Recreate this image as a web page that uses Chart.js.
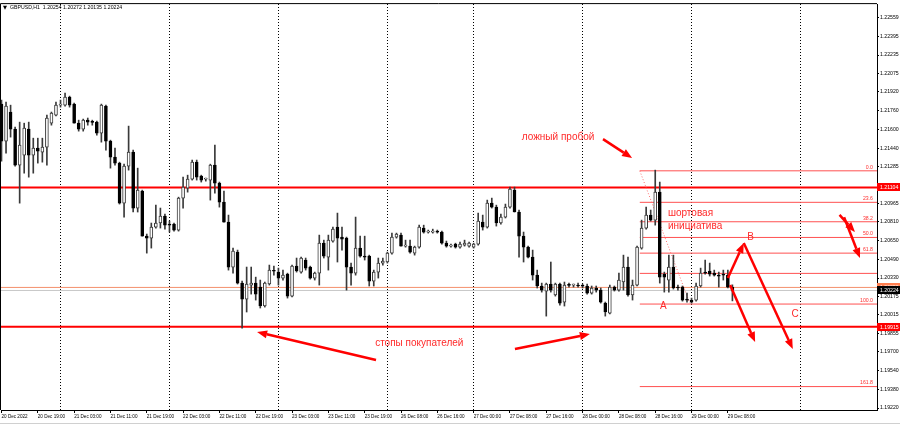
<!DOCTYPE html>
<html>
<head>
<meta charset="UTF-8">
<title>GBPUSD,H1</title>
<script src="https://cdn.jsdelivr.net/npm/chart.js@4"></script>
<style>
  html, body { margin: 0; padding: 0; background: #fff; }
</style>
</head>
<body>
<canvas id="gbpusdChart" width="900" height="425"></canvas>
<script>
const symbolTitle = 'GBPUSD,H1';

// H1 bars, bar 0 = 20 Dec 11:00
const opens = [
  1.21816, 1.21500, 1.21748, 1.21602, 1.21295, 1.21380, 1.21602, 1.21380, 1.21440, 1.21406,
  1.21448, 1.21653, 1.21722, 1.21807, 1.21807, 1.21876, 1.21816, 1.21653, 1.21602, 1.21679,
  1.21662, 1.21662, 1.21568, 1.21799, 1.21500, 1.21363, 1.21312, 1.20970, 1.21286, 1.21406,
  1.20928, 1.21073, 1.20688, 1.20671, 1.20765, 1.20800, 1.20860, 1.20791, 1.20791, 1.20740,
  1.21013, 1.21098, 1.21175, 1.21320, 1.21201, 1.21175, 1.21167, 1.21295, 1.21141, 1.20979,
  1.20808, 1.20424, 1.20552, 1.20287, 1.20150, 1.20270, 1.20287, 1.20253, 1.20091, 1.20279,
  1.20390, 1.20381, 1.20330, 1.20364, 1.20176, 1.20432, 1.20381, 1.20484, 1.20424, 1.20330,
  1.20372, 1.20628, 1.20509, 1.20646, 1.20765, 1.20680, 1.20671, 1.20424, 1.20372, 1.20586,
  1.20518, 1.20518, 1.20304, 1.20381, 1.20458, 1.20467, 1.20543, 1.20680, 1.20697, 1.20603,
  1.20603, 1.20543, 1.20594, 1.20757, 1.20723, 1.20723, 1.20731, 1.20723, 1.20628, 1.20603,
  1.20620, 1.20594, 1.20611, 1.20603, 1.20594, 1.20620, 1.20808, 1.20765, 1.20970, 1.20936,
  1.20800, 1.20851, 1.20936, 1.21081, 1.20894, 1.20688, 1.20594, 1.20509, 1.20355, 1.20262,
  1.20219, 1.20279, 1.20185, 1.20279, 1.20125, 1.20270, 1.20270, 1.20270, 1.20262, 1.20262,
  1.20202, 1.20245, 1.20227, 1.20116, 1.20031, 1.20253, 1.20227, 1.20296, 1.20424, 1.20185,
  1.20270, 1.20586, 1.20757, 1.20868, 1.20825, 1.21064, 1.20364, 1.20313, 1.20424, 1.20253,
  1.20253, 1.20150, 1.20142, 1.20142, 1.20262, 1.20381, 1.20390, 1.20372, 1.20355, 1.20364,
  1.20355, 1.20254
];
const highs = [
  1.21850, 1.21833, 1.21807, 1.21619, 1.21662, 1.21653, 1.21662, 1.21525, 1.21525, 1.21525,
  1.21722, 1.21748, 1.21833, 1.21850, 1.21910, 1.21884, 1.21824, 1.21679, 1.21688, 1.21697,
  1.21679, 1.21671, 1.21816, 1.21807, 1.21508, 1.21440, 1.21320, 1.21303, 1.21628, 1.21423,
  1.21269, 1.21081, 1.20706, 1.20800, 1.20953, 1.20928, 1.20877, 1.20817, 1.20800, 1.21021,
  1.21192, 1.21209, 1.21338, 1.21338, 1.21209, 1.21184, 1.21303, 1.21466, 1.21150, 1.21073,
  1.20868, 1.20586, 1.20569, 1.20304, 1.20424, 1.20424, 1.20338, 1.20313, 1.20296, 1.20441,
  1.20432, 1.20415, 1.20398, 1.20372, 1.20441, 1.20501, 1.20509, 1.20501, 1.20432, 1.20381,
  1.20697, 1.20654, 1.20697, 1.20765, 1.20885, 1.20765, 1.20680, 1.20458, 1.20851, 1.20688,
  1.20688, 1.20526, 1.20398, 1.20501, 1.20501, 1.20552, 1.20714, 1.20714, 1.20714, 1.20654,
  1.20654, 1.20603, 1.20782, 1.20782, 1.20740, 1.20748, 1.20740, 1.20731, 1.20646, 1.20620,
  1.20628, 1.20637, 1.20654, 1.20637, 1.20628, 1.20885, 1.20868, 1.20996, 1.21013, 1.20953,
  1.20877, 1.20962, 1.21107, 1.21107, 1.20911, 1.20723, 1.20603, 1.20569, 1.20398, 1.20287,
  1.20287, 1.20467, 1.20287, 1.20287, 1.20296, 1.20287, 1.20279, 1.20287, 1.20279, 1.20279,
  1.20262, 1.20262, 1.20245, 1.20125, 1.20270, 1.20262, 1.20372, 1.20526, 1.20509, 1.20313,
  1.20603, 1.20825, 1.20936, 1.20911, 1.21252, 1.21150, 1.20381, 1.20526, 1.20526, 1.20270,
  1.20262, 1.20202, 1.20159, 1.20287, 1.20415, 1.20484, 1.20458, 1.20398, 1.20381, 1.20398,
  1.20398, 1.20272
];
const lows = [
  1.21329, 1.21397, 1.21534, 1.21286, 1.20970, 1.21226, 1.21192, 1.21226, 1.21312, 1.21320,
  1.21295, 1.21636, 1.21714, 1.21790, 1.21799, 1.21790, 1.21653, 1.21585, 1.21585, 1.21636,
  1.21636, 1.21551, 1.21491, 1.21423, 1.21269, 1.21295, 1.20962, 1.20851, 1.21252, 1.20894,
  1.20894, 1.20688, 1.20543, 1.20586, 1.20757, 1.20757, 1.20748, 1.20723, 1.20731, 1.20731,
  1.20928, 1.21064, 1.21167, 1.21167, 1.21150, 1.21158, 1.20996, 1.21056, 1.20936, 1.20808,
  1.20398, 1.20372, 1.20279, 1.19903, 1.20040, 1.20193, 1.20142, 1.20074, 1.20082, 1.20270,
  1.20355, 1.20270, 1.20313, 1.20159, 1.20168, 1.20381, 1.20372, 1.20398, 1.20321, 1.20313,
  1.20270, 1.20501, 1.20398, 1.20637, 1.20467, 1.20569, 1.20227, 1.20270, 1.20355, 1.20509,
  1.20484, 1.20262, 1.20262, 1.20330, 1.20441, 1.20458, 1.20535, 1.20671, 1.20603, 1.20594,
  1.20543, 1.20526, 1.20586, 1.20714, 1.20714, 1.20714, 1.20714, 1.20620, 1.20594, 1.20594,
  1.20586, 1.20586, 1.20603, 1.20594, 1.20586, 1.20611, 1.20740, 1.20757, 1.20928, 1.20774,
  1.20791, 1.20843, 1.20928, 1.20894, 1.20509, 1.20467, 1.20501, 1.20313, 1.20245, 1.20210,
  1.20005, 1.20210, 1.20176, 1.20099, 1.20091, 1.20253, 1.20253, 1.20253, 1.20245, 1.20193,
  1.20193, 1.20210, 1.20116, 1.20005, 1.20023, 1.20219, 1.20219, 1.20227, 1.20176, 1.20142,
  1.20262, 1.20577, 1.20748, 1.20817, 1.20782, 1.20287, 1.20210, 1.20210, 1.20236, 1.20227,
  1.20133, 1.20125, 1.20116, 1.20133, 1.20253, 1.20364, 1.20347, 1.20347, 1.20253, 1.20313,
  1.20245, 1.20135
];
const closes = [
  1.21500, 1.21799, 1.21602, 1.21295, 1.21466, 1.21611, 1.21380, 1.21440, 1.21414, 1.21448,
  1.21697, 1.21739, 1.21807, 1.21816, 1.21876, 1.21807, 1.21653, 1.21602, 1.21679, 1.21662,
  1.21660, 1.21568, 1.21807, 1.21500, 1.21363, 1.21312, 1.20970, 1.21286, 1.21406, 1.20928,
  1.21081, 1.20688, 1.20671, 1.20765, 1.20800, 1.20860, 1.20782, 1.20782, 1.20740, 1.21013,
  1.21107, 1.21175, 1.21320, 1.21192, 1.21167, 1.21177, 1.21295, 1.21141, 1.20979, 1.20808,
  1.20424, 1.20560, 1.20287, 1.20150, 1.20279, 1.20287, 1.20193, 1.20091, 1.20287, 1.20398,
  1.20388, 1.20330, 1.20355, 1.20176, 1.20432, 1.20390, 1.20501, 1.20415, 1.20330, 1.20372,
  1.20628, 1.20518, 1.20654, 1.20748, 1.20671, 1.20663, 1.20424, 1.20372, 1.20586, 1.20518,
  1.20509, 1.20304, 1.20381, 1.20458, 1.20475, 1.20543, 1.20680, 1.20706, 1.20603, 1.20611,
  1.20552, 1.20594, 1.20765, 1.20723, 1.20731, 1.20731, 1.20723, 1.20628, 1.20603, 1.20611,
  1.20594, 1.20620, 1.20628, 1.20628, 1.20620, 1.20817, 1.20765, 1.20970, 1.20936, 1.20800,
  1.20851, 1.20936, 1.21090, 1.20894, 1.20688, 1.20594, 1.20509, 1.20355, 1.20262, 1.20227,
  1.20279, 1.20227, 1.20279, 1.20116, 1.20270, 1.20268, 1.20272, 1.20262, 1.20260, 1.20202,
  1.20245, 1.20227, 1.20125, 1.20040, 1.20253, 1.20227, 1.20313, 1.20424, 1.20185, 1.20270,
  1.20594, 1.20757, 1.20868, 1.20825, 1.21064, 1.20338, 1.20338, 1.20424, 1.20245, 1.20245,
  1.20142, 1.20142, 1.20125, 1.20262, 1.20372, 1.20372, 1.20364, 1.20355, 1.20347, 1.20355,
  1.20253, 1.20224
];

const timeTicks = ['20 Dec 2022', '20 Dec 19:00', '21 Dec 03:00', '21 Dec 11:00', '21 Dec 19:00',
  '22 Dec 03:00', '22 Dec 11:00', '22 Dec 19:00', '23 Dec 03:00', '23 Dec 11:00', '23 Dec 19:00',
  '26 Dec 08:00', '26 Dec 16:00', '27 Dec 00:00', '27 Dec 08:00', '27 Dec 16:00', '28 Dec 00:00',
  '28 Dec 08:00', '28 Dec 16:00', '29 Dec 00:00', '29 Dec 08:00'];
const timeTickBars = [0, 8, 16, 24, 32, 40, 48, 56, 64, 72, 80, 88, 96, 104, 112, 120, 128, 136, 144, 152, 160];
const daySeparators = [13, 37, 61, 85, 104, 128, 152, 176];

const priceTicks = [1.22559, 1.22395, 1.22235, 1.22075, 1.21920, 1.21760, 1.21600, 1.21440, 1.21285,
  1.20965, 1.20810, 1.20650, 1.20490, 1.20330, 1.20175, 1.20015, 1.19855, 1.19700, 1.19540, 1.19380, 1.19220];

const levelLines = [1.21104, 1.19915];
const userLine = 1.20250;
const bidPrice = 1.20224;

const fibLabels = ['0.0', '23.6', '38.2', '50.0', '61.8', '', '100.0', '161.8'];
const fibPrices = [1.21246, 1.20977, 1.20811, 1.20677, 1.20543, 1.20370, 1.20108, 1.19403];
const fibStartBar = 140.6;
const fibDiagonal = [{x: 140.6, y: 1.21246}, {x: 151.6, y: 1.20116}];

// [bar1, price1, bar2, price2], head at the second point
const arrows = [
  [132.5, 1.21517, 138.9, 1.21355],
  [82.5, 1.19630, 56.3, 1.19869],
  [113.1, 1.19724, 129.6, 1.19852],
  [160.0, 1.20330, 163.5, 1.20629],
  [163.5, 1.20629, 174.3, 1.19724],
  [160.5, 1.20270, 166.0, 1.19783],
  [184.6, 1.20870, 188.0, 1.20723],
  [185.6, 1.20850, 189.1, 1.20501]
];
// text, bar, price, align, size
const notes = [
  ['ложный пробой', 114.6, 1.21534, 'left', 10],
  ['шортовая', 146.8, 1.20885, 'left', 10],
  ['инициатива', 146.8, 1.20774, 'left', 10],
  ['стопы покупателей', 82.3, 1.19775, 'left', 10],
  ['A', 145.8, 1.20085, 'center', 10],
  ['B', 165.0, 1.20677, 'center', 10],
  ['C', 174.8, 1.20020, 'center', 10]
];

const X_MIN = -0.11, X_MAX = 192.85;
const Y_MIN = 1.19203, Y_MAX = 1.22670;
const FONT = '"Liberation Sans", Arial, sans-serif';

Chart.defaults.font.family = FONT;

function hLine(price, color, width, fromBar) {
  return {
    type: 'line',
    data: [{x: fromBar, y: price}, {x: X_MAX, y: price}],
    borderColor: color,
    borderWidth: width,
    pointRadius: 0,
    order: 5
  };
}

function drawArrow(ctx, x1, y1, x2, y2) {
  const ang = Math.atan2(y2 - y1, x2 - x1);
  const head = 10, half = 4;
  const bx = x2 - head * Math.cos(ang), by = y2 - head * Math.sin(ang);
  ctx.strokeStyle = '#ff0000';
  ctx.fillStyle = '#ff0000';
  ctx.lineWidth = 2.5;
  ctx.beginPath();
  ctx.moveTo(x1, y1);
  ctx.lineTo(bx, by);
  ctx.stroke();
  ctx.beginPath();
  ctx.moveTo(x2, y2);
  ctx.lineTo(bx + half * Math.sin(ang), by - half * Math.cos(ang));
  ctx.lineTo(bx - half * Math.sin(ang), by + half * Math.cos(ang));
  ctx.closePath();
  ctx.fill();
}

function priceBox(ctx, yScale, left, price, bg, fg) {
  const py = Math.round(yScale.getPixelForValue(price));
  ctx.fillStyle = bg;
  ctx.fillRect(left, py - 4, 23, 8);
  ctx.fillStyle = fg;
  ctx.font = '5.2px ' + FONT;
  ctx.textAlign = 'left';
  ctx.textBaseline = 'middle';
  ctx.fillText(price.toFixed(5), left + 3, py + 0.5);
}

const overlay = {
  id: 'overlay',
  afterDatasetsDraw(chart) {
    const {ctx, chartArea: a, scales: {x, y}} = chart;
    ctx.save();
    // fibo level captions
    ctx.font = '5.2px ' + FONT;
    ctx.fillStyle = '#ff3030';
    ctx.textAlign = 'right';
    ctx.textBaseline = 'bottom';
    fibLabels.forEach((t, k) => {
      if (t) ctx.fillText(t, a.right - 4, y.getPixelForValue(fibPrices[k]) - 1);
    });
    arrows.forEach(([b1, p1, b2, p2]) => {
      drawArrow(ctx, x.getPixelForValue(b1), y.getPixelForValue(p1), x.getPixelForValue(b2), y.getPixelForValue(p2));
    });
    ctx.fillStyle = '#ff2a2a';
    ctx.textBaseline = 'middle';
    notes.forEach(([t, b, p, al, size]) => {
      ctx.font = size + 'px ' + FONT;
      ctx.textAlign = al;
      ctx.fillText(t, x.getPixelForValue(b), y.getPixelForValue(p));
    });
    ctx.restore();
  },
  afterDraw(chart) {
    const {ctx, chartArea: a, scales: {y}} = chart;
    ctx.save();
    // window frame (top and left)
    ctx.strokeStyle = '#000';
    ctx.lineWidth = 1;
    ctx.beginPath();
    ctx.moveTo(a.left - 0.5, a.bottom);
    ctx.lineTo(a.left - 0.5, a.top - 0.5);
    ctx.lineTo(a.right, a.top - 0.5);
    ctx.stroke();
    ctx.strokeStyle = '#d0d0d0';
    ctx.beginPath();
    ctx.moveTo(0, 423.5);
    ctx.lineTo(900, 423.5);
    ctx.stroke();
    // price labels on the scale
    priceBox(ctx, y, a.right, levelLines[0], '#ff0000', '#fff');
    priceBox(ctx, y, a.right, levelLines[1], '#ff0000', '#fff');
    priceBox(ctx, y, a.right, userLine, '#ff7f50', '#fff');
    priceBox(ctx, y, a.right, bidPrice, '#000', '#fff');
    // header
    const last = closes.length - 1;
    ctx.fillStyle = '#000';
    ctx.font = '5.2px "DejaVu Sans", sans-serif';
    ctx.textAlign = 'left';
    ctx.textBaseline = 'middle';
    ctx.fillText('▼', 3, 7.5);
    ctx.font = '5.2px ' + FONT;
    ctx.fillText(symbolTitle + '  ' + [opens[last], highs[last], lows[last], closes[last]].map(v => v.toFixed(5)).join(' '), 10, 7.5);
    ctx.restore();
  }
};

const bars = opens.map((o, i) => i);
const bull = bars.map(i => closes[i] >= opens[i]);

new Chart(document.getElementById('gbpusdChart'), {
  type: 'bar',
  data: {
    datasets: [
      {
        label: 'body',
        data: bars.map(i => ({x: i, y: [Math.min(opens[i], closes[i]), Math.max(opens[i], closes[i])]})),
        backgroundColor: bull.map(b => b ? '#ffffff' : '#000000'),
        borderColor: bull.map(b => b ? '#3a3a3a' : '#000000'),
        borderWidth: 1,
        borderSkipped: false,
        barThickness: 3,
        minBarLength: 1,
        grouped: false,
        order: 0
      },
      {
        label: 'wick',
        data: bars.map(i => ({x: i, y: [lows[i], highs[i]]})),
        backgroundColor: '#3a3a3a',
        borderWidth: 0,
        barThickness: 1,
        grouped: false,
        order: 1
      },
      hLine(levelLines[0], '#ff0000', 2, X_MIN),
      hLine(levelLines[1], '#ff0000', 2, X_MIN),
      hLine(userLine, '#f4906c', 1, X_MIN),
      hLine(bidPrice, '#c8c8c8', 1, X_MIN),
      ...fibPrices.map(p => hLine(p, '#ff5050', 1, fibStartBar)),
      {
        type: 'line',
        data: fibDiagonal,
        borderColor: '#ff7070',
        borderWidth: 1,
        borderDash: [1, 2],
        pointRadius: 0,
        order: 4
      }
    ]
  },
  options: {
    responsive: false,
    animation: false,
    events: [],
    layout: { padding: { top: 4, left: 1, right: 0, bottom: 0 } },
    plugins: { legend: { display: false }, tooltip: { enabled: false } },
    scales: {
      x: {
        type: 'linear',
        position: 'bottom',
        min: X_MIN,
        max: X_MAX,
        offset: false,
        afterFit: s => { s.height = 15; },
        afterBuildTicks: s => { s.ticks = timeTickBars.map(v => ({value: v})); },
        ticks: {
          autoSkip: false,
          maxRotation: 0,
          align: 'start',
          padding: 1,
          color: '#000',
          font: { size: 4.6 },
          callback: (v, idx) => timeTicks[idx]
        },
        grid: { offset: false, drawOnChartArea: false, drawTicks: true, tickLength: 3, color: '#000' },
        border: { display: true, color: '#000' }
      },
      sep: {
        type: 'linear',
        position: 'top',
        min: X_MIN,
        max: X_MAX,
        offset: false,
        afterFit: s => { s.height = 0; },
        afterBuildTicks: s => { s.ticks = daySeparators.map(v => ({value: v})); },
        ticks: { display: false },
        grid: { offset: false, drawOnChartArea: true, drawTicks: false, color: '#000', lineWidth: 1 },
        border: { display: false, dash: [1, 2] }
      },
      y: {
        type: 'linear',
        position: 'right',
        min: Y_MIN,
        max: Y_MAX,
        afterFit: s => { s.width = 23; },
        afterBuildTicks: s => { s.ticks = priceTicks.map(v => ({value: v})); },
        ticks: {
          autoSkip: false,
          padding: 1,
          color: '#000',
          font: { size: 5.2 },
          callback: v => Number(v).toFixed(5)
        },
        grid: { drawOnChartArea: false, drawTicks: true, tickLength: 2, color: '#000' },
        border: { display: true, color: '#000' }
      }
    }
  },
  plugins: [overlay]
});
</script>
</body>
</html>
